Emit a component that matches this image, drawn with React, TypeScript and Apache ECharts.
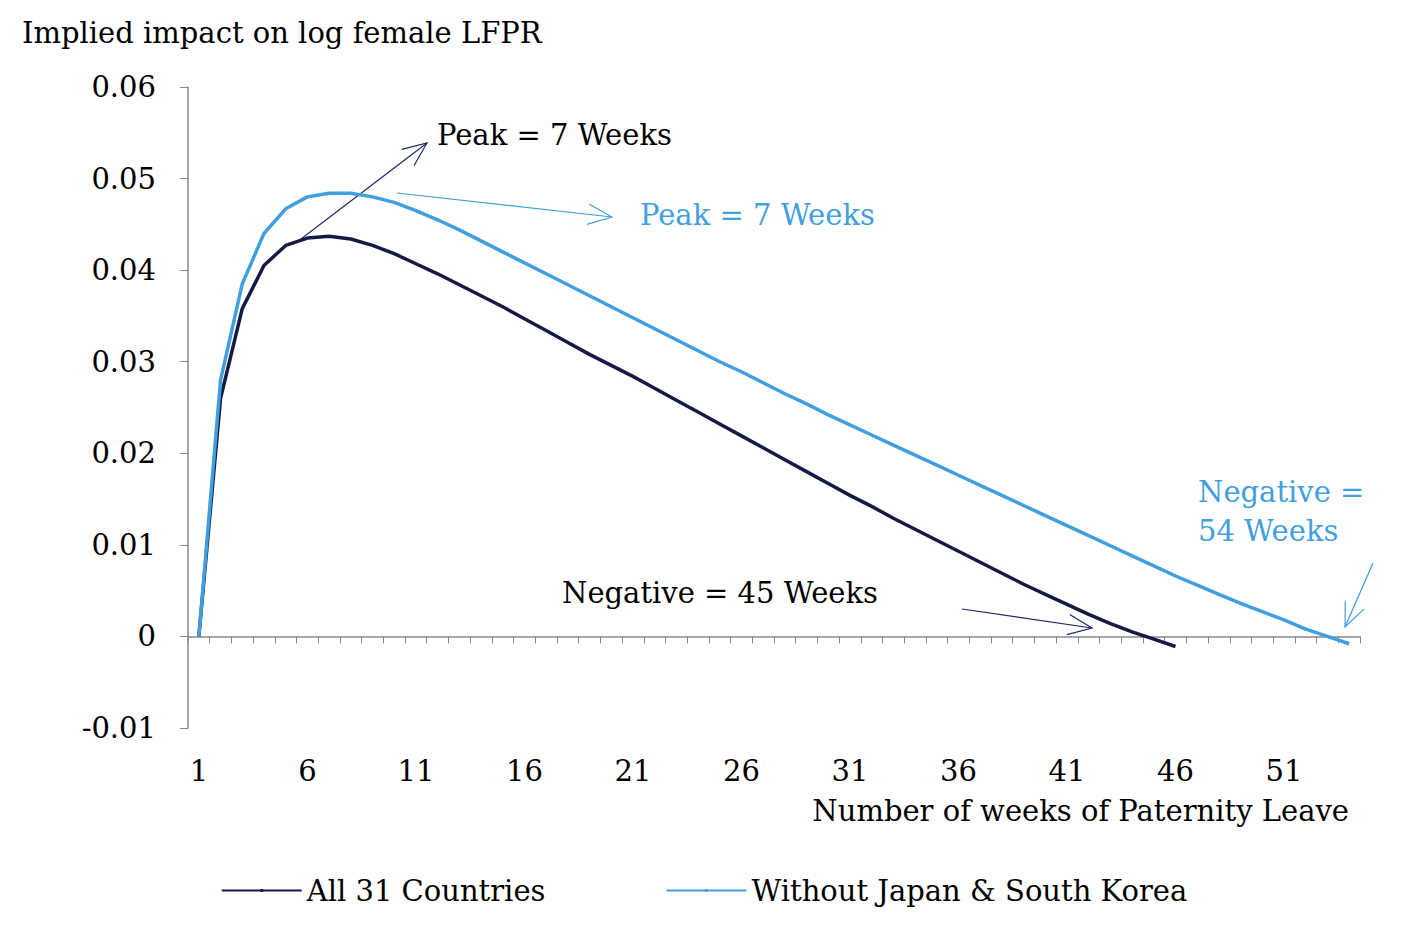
import React, { useEffect, useRef } from 'react';
import * as echarts from 'echarts';

const weeks = Array.from({ length: 54 }, (_, i) => String(i + 1));

const allCountries = [
  0, 0.026, 0.0358, 0.0405, 0.0427, 0.0435, 0.0437, 0.0434, 0.0427, 0.0418,
  0.0407, 0.0396, 0.0384, 0.0372, 0.036, 0.0347, 0.0334, 0.0321, 0.0308, 0.0296,
  0.0284, 0.0271, 0.0258, 0.0245, 0.0232, 0.0219, 0.0206, 0.0193, 0.018, 0.0167,
  0.0154, 0.0142, 0.0129, 0.0117, 0.0105, 0.0093, 0.0081, 0.0069, 0.0057, 0.0046,
  0.0035, 0.0024, 0.0014, 0.0005, -0.0003, -0.0011,
];

const withoutJpKr = [
  0, 0.028, 0.0385, 0.044, 0.0467, 0.048, 0.0484, 0.0484, 0.048, 0.0474,
  0.0465, 0.0455, 0.0444, 0.0432, 0.042, 0.0408, 0.0396, 0.0384, 0.0372, 0.036,
  0.0348, 0.0336, 0.0324, 0.0312, 0.03, 0.0289, 0.0277, 0.0265, 0.0254, 0.0242,
  0.0231, 0.022, 0.0209, 0.0198, 0.0187, 0.0176, 0.0165, 0.0154, 0.0143, 0.0132,
  0.0121, 0.011, 0.0099, 0.0088, 0.0077, 0.0066, 0.0056, 0.0046, 0.0036, 0.0027,
  0.0018, 0.0008, 0, -0.0008,
];

const DARK = '#141a46';
const LIGHT = '#419fdf';
const FONT = '"DejaVu Serif", "Liberation Serif", serif';

function arrow(x1: number, y1: number, x2: number, y2: number, color: string): any[] {
  const a = Math.atan2(y2 - y1, x2 - x1);
  const L = 26, w = 0.4;
  const p1 = [x2 - L * Math.cos(a - w), y2 - L * Math.sin(a - w)];
  const p2 = [x2 - L * Math.cos(a + w), y2 - L * Math.sin(a + w)];
  return [
    { type: 'line', shape: { x1, y1, x2, y2 }, style: { stroke: color, lineWidth: 1.2 } },
    { type: 'polyline', shape: { points: [p1, [x2, y2], p2] }, style: { stroke: color, lineWidth: 1.2, fill: 'none' } },
  ];
}

function label(x: number, y: number, text: string, color: string): any {
  return { type: 'text', x, y, style: { text, fill: color, font: `29px ${FONT}` } };
}

export default function App() {
  const ref = useRef<HTMLDivElement | null>(null);

  useEffect(() => {
    document.body.style.margin = '0';
    if (!ref.current) return;
    const chart = echarts.init(ref.current, undefined, { renderer: 'svg' });
    const axisText = { color: '#000', fontSize: 29, fontFamily: FONT };
    chart.setOption({
      animation: false,
      backgroundColor: '#fff',
      grid: { left: 188, right: 48, top: 87, bottom: 222 },
      legend: {
        bottom: 40,
        left: 'center',
        itemWidth: 80,
        itemHeight: 4,
        itemGap: 120,
        textStyle: { color: '#000', fontSize: 29, fontFamily: FONT },
        data: ['All 31 Countries', 'Without Japan & South Korea'],
      },
      xAxis: [
        {
          type: 'category',
          data: weeks,
          axisLine: { onZero: true, lineStyle: { color: '#888', width: 1.5 } },
          axisTick: { show: true, interval: 0, length: 7, lineStyle: { color: '#888' } },
          axisLabel: { show: false },
        },
        {
          type: 'category',
          data: weeks,
          position: 'bottom',
          axisLine: { onZero: false, show: false },
          axisTick: { show: false },
          axisLabel: { ...axisText, interval: 4, margin: 28 },
          name: 'Number of weeks of Paternity Leave',
          nameLocation: 'end',
          nameTextStyle: { ...axisText, align: 'right', verticalAlign: 'top', padding: [68, 10, 0, 0] },
          nameGap: -1,
        },
      ],
      yAxis: {
        type: 'value',
        min: -0.01,
        max: 0.06,
        interval: 0.01,
        splitLine: { show: false },
        axisLine: { show: true, lineStyle: { color: '#888', width: 1.5 } },
        axisTick: { show: true, length: 8, lineStyle: { color: '#888' } },
        axisLabel: { ...axisText, margin: 32, formatter: (v: number) => (Math.abs(v) < 1e-9 ? '0' : String(+v.toFixed(2))) },
      },
      series: [
        { name: 'All 31 Countries', type: 'line', data: allCountries, symbol: 'none', lineStyle: { color: DARK, width: 3.5 }, itemStyle: { color: DARK } },
        { name: 'Without Japan & South Korea', type: 'line', data: withoutJpKr, symbol: 'none', lineStyle: { color: LIGHT, width: 3.5 }, itemStyle: { color: LIGHT } },
      ],
      graphic: [
        label(22, 18, 'Implied impact on log female LFPR', '#000'),
        label(437, 120, 'Peak = 7 Weeks', '#000'),
        label(640, 200, 'Peak = 7 Weeks', LIGHT),
        label(562, 578, 'Negative = 45 Weeks', '#000'),
        label(1198, 477, 'Negative =', LIGHT),
        label(1198, 516, '54 Weeks', LIGHT),
        ...arrow(297, 242, 427, 143, '#1d2a6a'),
        ...arrow(397, 193, 612, 217, LIGHT),
        ...arrow(962, 609, 1092, 628, '#1d2a6a'),
        ...arrow(1373, 563, 1345, 627, LIGHT),
      ],
    });
    return () => chart.dispose();
  }, []);

  return <div ref={ref} style={{ width: 1408, height: 950 }} />;
}
